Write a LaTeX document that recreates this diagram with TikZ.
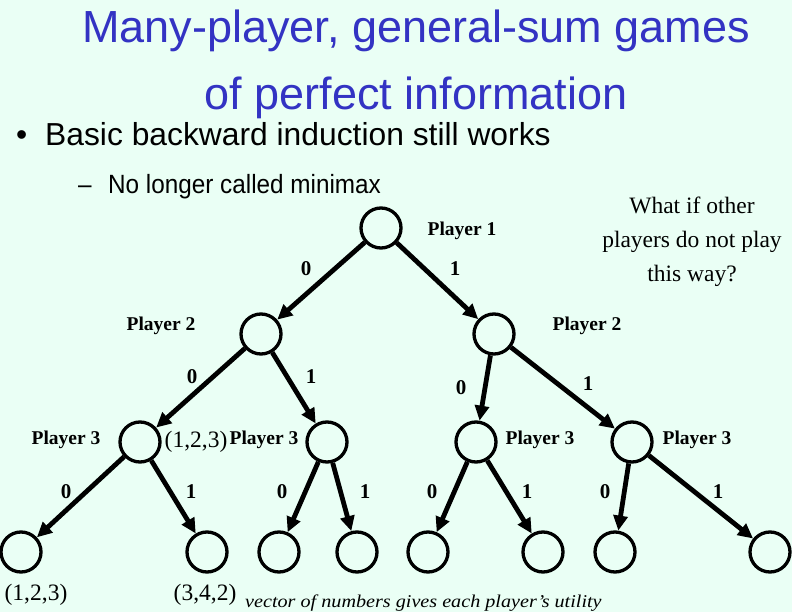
\documentclass[tikz,border=0pt]{standalone}
\usepackage{fontspec}
\usepackage{graphicx}
\setmainfont{Liberation Serif}
\newfontfamily\arialfont{Liberation Sans}
\usetikzlibrary{arrows.meta}
\definecolor{bg}{RGB}{234,255,245}
\definecolor{titleblue}{RGB}{51,51,195}
\begin{document}
\begin{tikzpicture}[x=1pt,y=-1pt,
  gnode/.style={circle,draw=black,line width=3.3pt,minimum size=40pt,inner sep=0pt},
  edge/.style={line width=4.8pt,-{Triangle[length=15pt,width=14pt]}},
  plab/.style={font=\fontsize{19.5}{19.5}\selectfont\bfseries,inner sep=0pt},
  elab/.style={font=\fontsize{21}{21}\selectfont\bfseries,inner sep=0pt},
  util/.style={font=\fontsize{23.5}{23.5}\selectfont,inner sep=0pt},
  titletext/.style={font=\arialfont\fontsize{45}{45}\selectfont,text=titleblue,inner sep=0pt,anchor=base},
  bullettext/.style={font=\arialfont\fontsize{31.8}{31.8}\selectfont,inner sep=0pt,anchor=base west},
  subtext/.style={font=\arialfont\fontsize{26.4}{26.4}\selectfont,inner sep=0pt,anchor=base west}]
\fill[bg] (0,0) rectangle (792,612);
\useasboundingbox (0,0) rectangle (792,612);

% title and bullets
\node[titletext] (t1) at (416,43) {Many-player, general-sum games};
\node[titletext] (t2) at (416,110) {of perfect information};
\node[bullettext] (b0) at (16,146) {•};
\node[bullettext] (b1) at (45,146) {Basic backward induction still works};
\node[subtext] (s0) at (78,194) {\scalebox{0.92}[1]{–}};
\node[subtext] (s1) at (108,194) {\scalebox{0.92}[1]{No longer called minimax}};

% side remark
\node[font=\fontsize{23.5}{34}\selectfont,align=center,inner sep=0pt] (what) at (692,242)
  {What if other\\players do not play\\this way?};

% tree nodes
\node[gnode] (r) at (381,228) {};
\node[gnode] (a) at (261,334) {};
\node[gnode] (b) at (494,334) {};
\node[gnode] (aa) at (140,442) {};
\node[gnode] (ab) at (327,442) {};
\node[gnode] (ba) at (476,442) {};
\node[gnode] (bb) at (632,442) {};
\node[gnode] (l1) at (21,552) {};
\node[gnode] (l2) at (207,552) {};
\node[gnode] (l3) at (279,552) {};
\node[gnode] (l4) at (357,552) {};
\node[gnode] (l5) at (428,552) {};
\node[gnode] (l6) at (543,552) {};
\node[gnode] (l7) at (615,552) {};
\node[gnode] (l8) at (770,552) {};

% edges
\draw[edge] (r) -- (a);
\draw[edge] (r) -- (b);
\draw[edge] (a) -- (aa);
\draw[edge] (a) -- (ab);
\draw[edge] (b) -- (ba);
\draw[edge] (b) -- (bb);
\draw[edge] (aa) -- (l1);
\draw[edge] (aa) -- (l2);
\draw[edge] (ab) -- (l3);
\draw[edge] (ab) -- (l4);
\draw[edge] (ba) -- (l5);
\draw[edge] (ba) -- (l6);
\draw[edge] (bb) -- (l7);
\draw[edge] (bb) -- (l8);

% player labels
\node[plab] (p1) at (462,231) {Player 1};
\node[plab] (p2a) at (161,326) {Player 2};
\node[plab] (p2b) at (587,326) {Player 2};
\node[plab] (p3a) at (66,440) {Player 3};
\node[plab] (p3b) at (264,440) {Player 3};
\node[plab] (p3c) at (540,440) {Player 3};
\node[plab] (p3d) at (697,440) {Player 3};

% edge labels
\node[elab] (e1) at (306,269) {0};
\node[elab] (e2) at (455,269) {1};
\node[elab] (e3) at (192,377) {0};
\node[elab] (e4) at (311,377) {1};
\node[elab] (e5) at (461,388) {0};
\node[elab] (e6) at (588,384) {1};
\node[elab] (e7) at (66,492) {0};
\node[elab] (e8) at (191,492) {1};
\node[elab] (e9) at (282,492) {0};
\node[elab] (e10) at (365,492) {1};
\node[elab] (e11) at (432,492) {0};
\node[elab] (e12) at (527,492) {1};
\node[elab] (e13) at (605,492) {0};
\node[elab] (e14) at (718,492) {1};

% utilities
\node[util] (u0) at (196,442) {(1,2,3)};
\node[util] (u1) at (36,595) {(1,2,3)};
\node[util] (u2) at (205,595) {(3,4,2)};
\node[font=\fontsize{18}{18}\selectfont\itshape,inner sep=0pt,anchor=base west] (note) at (245,607)
  {\scalebox{1.12}[1]{vector of numbers gives each player’s utility}};
\end{tikzpicture}
\end{document}
